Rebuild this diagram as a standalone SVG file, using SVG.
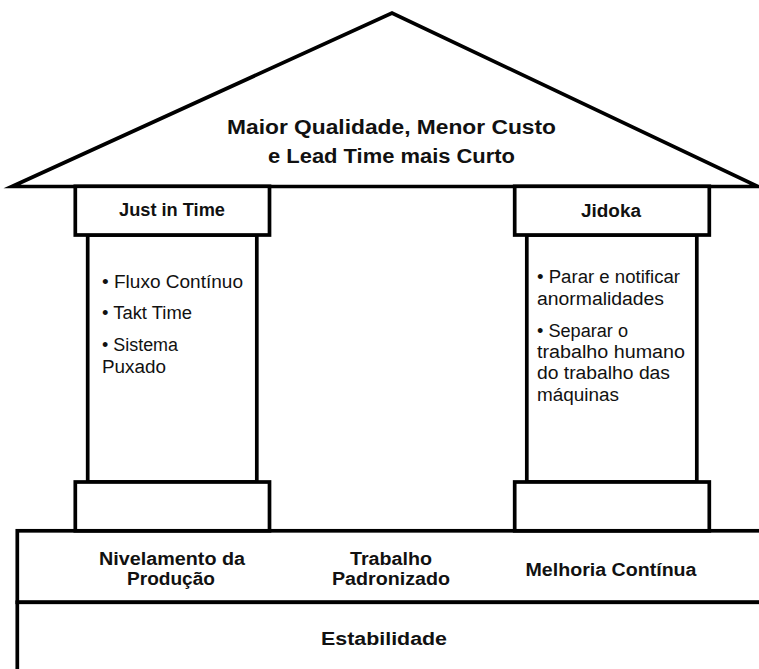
<svg xmlns="http://www.w3.org/2000/svg" width="759" height="669" viewBox="0 0 759 669">
  <style>
    .ln { fill: #fff; stroke: #000; stroke-width: 3.7; stroke-linejoin: miter; stroke-miterlimit: 20; }
    .hd { font-family: "Liberation Sans", Arial, sans-serif; font-weight: 700; fill: #111; text-anchor: middle; }
    .bl { font-family: "Liberation Sans", Arial, sans-serif; font-weight: 400; font-size: 18.8px; fill: #111; }
  </style>
  <rect width="759" height="669" fill="#fff"/>

  <!-- Foundation: levelling / standard work / improvement band, then stability -->
  <g id="base">
    <rect class="ln" x="17.3" y="530.8" width="780" height="71.5"/>
    <rect class="ln" x="17.3" y="602.3" width="780" height="90"/>
    <text class="hd" font-size="17.5" x="172" y="565" textLength="146" lengthAdjust="spacingAndGlyphs">Nivelamento da</text>
    <text class="hd" font-size="17.5" x="171" y="584.8" textLength="88" lengthAdjust="spacingAndGlyphs">Produção</text>
    <text class="hd" font-size="17.5" x="391" y="565" textLength="82" lengthAdjust="spacingAndGlyphs">Trabalho</text>
    <text class="hd" font-size="17.5" x="391" y="585" textLength="118" lengthAdjust="spacingAndGlyphs">Padronizado</text>
    <text class="hd" font-size="17.5" x="611" y="576" textLength="171" lengthAdjust="spacingAndGlyphs">Melhoria Contínua</text>
    <text class="hd" font-size="17.5" x="384" y="645" textLength="126" lengthAdjust="spacingAndGlyphs">Estabilidade</text>
  </g>

  <!-- Roof -->
  <g id="roof">
    <polygon class="ln" points="12,186.5 392,13 758,186.5"/>
    <text class="hd" font-size="20" x="391.5" y="134" textLength="329" lengthAdjust="spacingAndGlyphs">Maior Qualidade, Menor Custo</text>
    <text class="hd" font-size="20" x="391.5" y="163" textLength="247" lengthAdjust="spacingAndGlyphs">e Lead Time mais Curto</text>
  </g>

  <!-- Left pillar: Just in Time -->
  <g id="just-in-time">
    <rect class="ln" x="87.7" y="235" width="169.1" height="247"/>
    <rect class="ln" x="75.3" y="186.3" width="194.2" height="48.7"/>
    <rect class="ln" x="75.3" y="482" width="194.2" height="48.8"/>
    <text class="hd" font-size="17.5" x="172" y="216" textLength="106" lengthAdjust="spacingAndGlyphs">Just in Time</text>
    <text class="bl" x="102" y="288" textLength="141" lengthAdjust="spacingAndGlyphs">• Fluxo Contínuo</text>
    <text class="bl" x="102" y="319" textLength="90" lengthAdjust="spacingAndGlyphs">• Takt Time</text>
    <text class="bl" x="102" y="351" textLength="76" lengthAdjust="spacingAndGlyphs">• Sistema</text>
    <text class="bl" x="102" y="373" textLength="64" lengthAdjust="spacingAndGlyphs">Puxado</text>
  </g>

  <!-- Right pillar: Jidoka -->
  <g id="jidoka">
    <rect class="ln" x="526.8" y="235" width="170" height="247"/>
    <rect class="ln" x="514.7" y="186.3" width="194.6" height="48.7"/>
    <rect class="ln" x="514.7" y="482" width="194.6" height="48.8"/>
    <text class="hd" font-size="17.5" x="611" y="217" textLength="60" lengthAdjust="spacingAndGlyphs">Jidoka</text>
    <text class="bl" x="537" y="283" textLength="143" lengthAdjust="spacingAndGlyphs">• Parar e notificar</text>
    <text class="bl" x="537" y="304.5" textLength="127" lengthAdjust="spacingAndGlyphs">anormalidades</text>
    <text class="bl" x="537" y="337" textLength="91" lengthAdjust="spacingAndGlyphs">• Separar o</text>
    <text class="bl" x="537" y="358" textLength="148" lengthAdjust="spacingAndGlyphs">trabalho humano</text>
    <text class="bl" x="537" y="379" textLength="133" lengthAdjust="spacingAndGlyphs">do trabalho das</text>
    <text class="bl" x="537" y="400.5" textLength="82" lengthAdjust="spacingAndGlyphs">máquinas</text>
  </g>

  <g id="connectors"/>
</svg>
